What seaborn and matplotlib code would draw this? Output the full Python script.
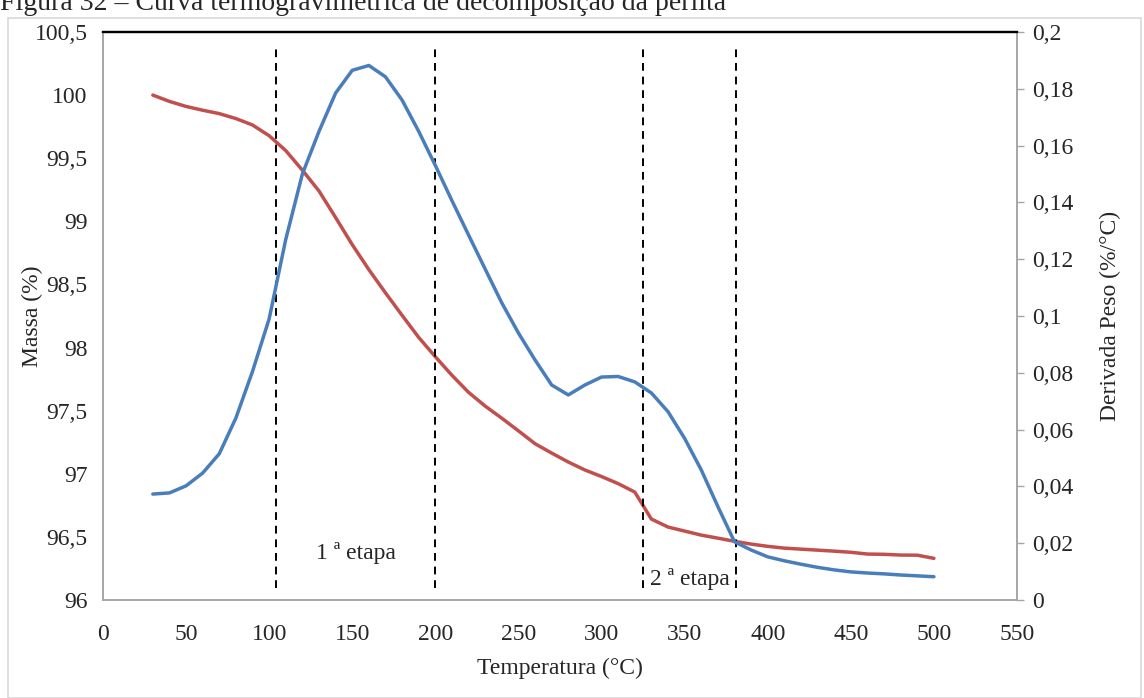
import matplotlib
matplotlib.use("Agg")
import matplotlib.pyplot as plt
import seaborn as sns
import pandas as pd
from matplotlib.patches import Rectangle

# === DADOS ===
temperatura = [30, 40, 50, 60, 70, 80, 90, 100, 110, 120, 130, 140, 150, 160, 170, 180,
               190, 200, 210, 220, 230, 240, 250, 260, 270, 280, 290, 300, 310, 320, 330,
               340, 350, 360, 370, 380, 390, 400, 410, 420, 430, 440, 450, 460, 470, 480,
               490, 500]
massa = [100.0, 99.95, 99.91, 99.88, 99.853, 99.814, 99.763, 99.678, 99.56, 99.405,
         99.24, 99.03, 98.815, 98.617, 98.433, 98.255, 98.08, 97.927, 97.78, 97.645,
         97.536, 97.44, 97.34, 97.238, 97.164, 97.093, 97.03, 96.978, 96.922, 96.855,
         96.641, 96.578, 96.546, 96.514, 96.49, 96.465, 96.443, 96.425, 96.411, 96.403,
         96.395, 96.387, 96.378, 96.364, 96.362, 96.356, 96.355, 96.33]
derivada = [0.0373, 0.0377, 0.0402, 0.0447, 0.0515, 0.0641, 0.0805, 0.099, 0.127, 0.150,
            0.165, 0.1785, 0.1865, 0.1882, 0.1842, 0.176, 0.165, 0.153, 0.1406, 0.1285,
            0.1165, 0.1046, 0.094, 0.0845, 0.0757, 0.0722, 0.0757, 0.0785, 0.0787, 0.0768,
            0.0729, 0.0663, 0.0569, 0.0458, 0.0329, 0.0205, 0.0176, 0.0152, 0.0138, 0.0126,
            0.0115, 0.0106, 0.0099, 0.0095, 0.0092, 0.0088, 0.0085, 0.0082]

etapas_limites = [104, 200, 325, 381]
etapas_texto = ["1 ª etapa", "2 ª etapa"]
etapas_pos = [(152, 96.37), (353, 96.17)]

x_ticks = [0, 50, 100, 150, 200, 250, 300, 350, 400, 450, 500, 550]
y1_ticks = [96, 96.5, 97, 97.5, 98, 98.5, 99, 99.5, 100, 100.5]
y1_labels = ["96", "96,5", "97", "97,5", "98", "98,5", "99", "99,5", "100", "100,5"]
y2_ticks = [0, 0.02, 0.04, 0.06, 0.08, 0.1, 0.12, 0.14, 0.16, 0.18, 0.2]
y2_labels = ["0", "0,02", "0,04", "0,06", "0,08", "0,1", "0,12", "0,14", "0,16", "0,18", "0,2"]

titulo = "Figura 32 – Curva termogravimétrica de decomposição da perlita"

# === ESTILO ===
sns.set_style("white")
plt.rcParams['font.family'] = ['Liberation Serif', 'DejaVu Serif']
plt.rcParams['font.size'] = 17

df = pd.DataFrame({"T": temperatura, "massa": massa, "deriv": derivada})

fig = plt.figure(figsize=(11.44, 6.98), dpi=100)
ax = fig.add_axes([0.09, 0.1404, 0.799, 0.8138])
ax2 = ax.twinx()

sns.lineplot(data=df, x="T", y="massa", ax=ax, color="#C0504D", linewidth=2.5)
sns.lineplot(data=df, x="T", y="deriv", ax=ax2, color="#4A7EBB", linewidth=2.5)

ax.set_xlim(0, 550)
ax.set_ylim(96, 100.5)
ax2.set_ylim(0, 0.2)

ax.set_xticks(x_ticks)
ax.set_xticklabels([str(t) for t in x_ticks])
ax.set_yticks(y1_ticks)
ax.set_yticklabels(y1_labels)
ax2.set_yticks(y2_ticks)
ax2.set_yticklabels(y2_labels)

ax.tick_params(axis="x", length=0, pad=17)
ax.tick_params(axis="y", length=0, pad=11)
ax2.tick_params(axis="y", length=5, width=1, color="#A6A6A6", direction="out", pad=6)

ax.set_xlabel("Temperatura (°C)")
ax.set_ylabel("Massa (%)")
ax2.set_ylabel("Derivada Peso (%/°C)")
ax.xaxis.set_label_coords(0.5, -0.101)
ax.yaxis.set_label_coords(-0.066, 0.5)
ax2.yaxis.set_label_coords(1.091, 0.5)

for a in (ax, ax2):
    for s in ("left", "bottom", "right"):
        a.spines[s].set_color("#A6A6A6")
        a.spines[s].set_linewidth(1.2)
    a.spines["top"].set_color("black")
    a.spines["top"].set_linewidth(1.6)

# linhas tracejadas das etapas
ax.vlines(etapas_limites, 96.095, 100.39, colors="black", linestyles=(0, (4, 3)), linewidth=1.4)
for txt, (tx, ty) in zip(etapas_texto, etapas_pos):
    ax.text(tx, ty, txt, ha="center", va="center", fontsize=17)

# moldura do gráfico e título (cortado no topo, como no original)
fig.patches.append(Rectangle((0.007, 0.0), 0.99, 0.974, transform=fig.transFigure,
                             fill=False, edgecolor="#D9D9D9", linewidth=1.2))
fig.text(0.0, 1 - 10 / 698, titulo, ha="left", va="baseline", fontsize=20)

plt.savefig("out.png", dpi=100)
plt.close()
